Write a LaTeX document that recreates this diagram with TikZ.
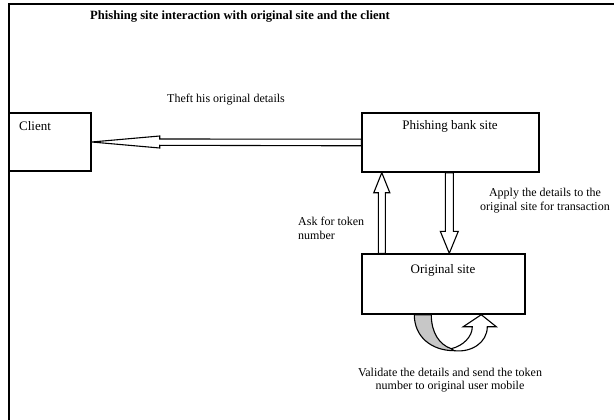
\documentclass[tikz,border=0pt]{standalone}
\usepackage{fontspec}
\setmainfont{Liberation Serif}
\usetikzlibrary{calc}
\begin{document}
\begin{tikzpicture}[x=1pt,y=-1pt,
  every node/.style={font=\fontsize{12}{13.5}\selectfont},
  box/.style={draw, line width=1.4pt, inner sep=0pt},
  boxtext/.style={inner sep=0pt, font=\fontsize{13}{15}\selectfont},
  blockarrow/.style={draw, line width=1.1pt, fill=white, line join=miter},
  lbl/.style={inner sep=0pt, align=center},
]
\useasboundingbox (0,0) rectangle (614,420);
\draw[line width=2pt] (8.5,420) -- (8.5,4) -- (614,4);

\node[lbl, font=\bfseries\fontsize{12.6}{14}\selectfont] (title) at (240,17) {Phishing site interaction with original site and the client};

\node[box, minimum width=82pt, minimum height=58pt] (cl) at (50,142) {};
\node[boxtext, anchor=west] (cltxt) at (19,126) {Client};
\node[box, minimum width=177pt, minimum height=59pt] (ph) at (450.5,142.5) {};
\node[boxtext] (phtxt) at (450,126) {Phishing bank site};
\node[box, minimum width=163pt, minimum height=60pt] (og) at (443.5,284) {};
\node[boxtext] (ogtxt) at (443,270) {Original site};

% left hollow arrow: phishing -> client
\draw[blockarrow] (cl.east) -- ++(68,-6) -- ++(0,3)
  -- ($(ph.west)+(0,-3.3)$) -- ($(ph.west)+(0,3.3)$)
  -- ($(cl.east)+(68,3.3)$) -- ($(cl.east)+(68,6)$) -- cycle;

% up arrow: original -> phishing
\draw[blockarrow] ($(ph.south west)+(20.5,0)$) -- ($(ph.south west)+(28.5,20)$)
  -- ($(ph.south west)+(24,20)$) -- ($(og.north west)+(24,0)$)
  -- ($(og.north west)+(17,0)$) -- ($(ph.south west)+(17,20)$)
  -- ($(ph.south west)+(12.5,20)$) -- cycle;

% down arrow: phishing -> original
\draw[blockarrow] ($(ph.south west)+(84,0)$) -- ($(og.north west)+(84,-22)$)
  -- ($(og.north west)+(79,-22)$) -- ($(og.north west)+(88,0)$)
  -- ($(og.north west)+(97,-22)$) -- ($(og.north west)+(92,-22)$)
  -- ($(ph.south west)+(92,0)$) -- cycle;

% curved u-turn arrow below original site
\begin{scope}[shift={(og.south west)}]
  \draw[line width=1.1pt, fill=black!22, line join=round]
    (53,0) .. controls (53,22) and (70,36) .. (93,36) -- (90,34)
    .. controls (78,30) and (70,18) .. (70,0) -- cycle;
  \draw[line width=1.1pt, fill=white, line join=miter]
    (90,34) .. controls (102,31) and (111,22) .. (111,12) -- (102,12)
    -- (120,0) -- (135,12) -- (126,12)
    .. controls (126,28) and (110,38) .. (93,36) -- cycle;
\end{scope}

\node[lbl] (theft) at (226,100) {Theft his original details};
\node[lbl, align=left, anchor=west] (ask) at (298,228.5) {Ask for token\\number};
\node[lbl] (apply) at (545,200.5) {Apply the details to the\\original site for transaction};
\node[lbl] (valid) at (450,380) {Validate the details and send the token\\number to original user mobile};
\end{tikzpicture}
\end{document}
